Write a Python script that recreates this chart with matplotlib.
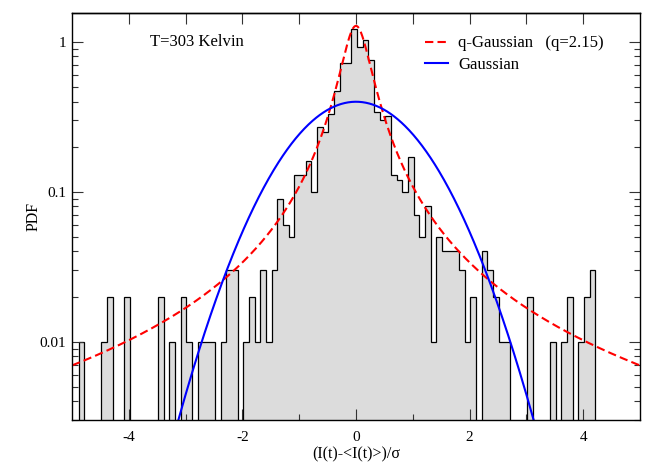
import numpy as np
import matplotlib
matplotlib.use("Agg")
import matplotlib.pyplot as plt
from matplotlib.ticker import FixedLocator, FuncFormatter, LogLocator, NullFormatter

# histogram of the normalised current, bin width 0.1
bin_start = -4.885
bin_width = 0.1
pdf_values = [
    0.01, 0, 0, 0, 0.01, 0.02, 0, 0, 0.02, 0,
    0, 0, 0, 0, 0.02, 0, 0.01, 0, 0.02, 0.01,
    0, 0.01, 0.01, 0.01, 0, 0.01, 0.03, 0.03, 0, 0.01,
    0.02, 0.01, 0.03, 0.01, 0.03, 0.09, 0.06, 0.05, 0.13, 0.13,
    0.16, 0.10, 0.27, 0.25, 0.33, 0.47, 0.72, 0.72, 1.22, 0.92,
    1.03, 0.76, 0.34, 0.30, 0.32, 0.13, 0.12, 0.10, 0.17, 0.07,
    0.05, 0.08, 0.01, 0.05, 0.04, 0.04, 0.04, 0.03, 0.01, 0.02,
    0, 0.04, 0.03, 0.02, 0.01, 0.01, 0, 0, 0, 0.02,
    0, 0, 0, 0.01, 0, 0.01, 0.02, 0, 0.01, 0.02,
    0.03,
]

# fitted curves
q_value = 2.15
q_peak = 1.28
q_beta = 14.0

x_ticks = [-4, -2, 0, 2, 4]
y_ticks = [0.01, 0.1, 1]
y_labels = ["0.01", "0.1", "1"]

plt.rcParams['font.family'] = ['Liberation Serif', 'DejaVu Serif']
plt.rcParams['axes.unicode_minus'] = False

pdf = np.array(pdf_values)
edges = bin_start + bin_width * np.arange(len(pdf) + 1)
# empty bins drop below the plot floor
pdf_draw = np.where(pdf > 0, pdf, 1e-6)

fig = plt.figure(figsize=(6.52, 4.62), dpi=100)
ax = fig.add_axes([72/652, 1 - 420/462, 568/652, 407/462])
ax.set_yscale('log')

ax.stairs(pdf_draw, edges, baseline=1e-6, fill=True, color='#dcdcdc', lw=0)
ax.stairs(pdf_draw, edges, baseline=1e-6, color='black', lw=0.9)

x = np.linspace(-5, 5, 801)
gauss = np.exp(-x**2 / 2) / np.sqrt(2 * np.pi)
qgauss = q_peak * (1 + (q_value - 1) * q_beta * x**2) ** (-1 / (q_value - 1))

ax.plot(x, qgauss, color='#ff0000', lw=1.5, ls=(0, (4, 2)),
        label="q-Gaussian   (q=2.15)")
ax.plot(x, gauss, color='#0000ff', lw=1.5, label="Gaussian")

ax.set_xlim(-5, 5)
ax.set_ylim(0.003, 1.56)

# ticks
ax.xaxis.set_major_locator(FixedLocator(x_ticks))
ax.xaxis.set_minor_locator(FixedLocator([-3, -1, 1, 3]))
ax.yaxis.set_major_locator(FixedLocator(y_ticks))
ax.yaxis.set_major_formatter(FuncFormatter(lambda v, p: y_labels[y_ticks.index(v)] if v in y_ticks else ""))
ax.yaxis.set_minor_locator(LogLocator(base=10, subs=np.arange(2, 10)))
ax.yaxis.set_minor_formatter(NullFormatter())
ax.xaxis.set_major_formatter(FuncFormatter(lambda v, p: "%d" % v))
ax.tick_params(which='both', direction='in', right=True, top=False, labelsize=11, color='#333333', width=0.8)
ax.tick_params(which='major', length=8)
ax.tick_params(axis='x', which='major', pad=8)
ax.tick_params(axis='y', which='major', pad=4)
ax.tick_params(which='minor', length=4)

top = ax.secondary_xaxis('top')
top.set_xticks(range(-4, 5))
top.tick_params(direction='in', length=8, width=0.8, color='#333333', labeltop=False)
top.spines['top'].set_linewidth(1.0)

for s in ax.spines.values():
    s.set_linewidth(1.0)

ax.set_xlabel("(I(t)-<I(t)>)/σ", fontsize=11.5, labelpad=2)
ax.set_ylabel("PDF", fontsize=11.5)
ax.yaxis.set_label_coords(-0.054, 0.5)

ax.text(0.137, 0.929, "T=303 Kelvin", transform=ax.transAxes, fontsize=12, va='center')

ax.legend(loc='upper left', bbox_to_anchor=(0.621, 0.945), frameon=False, fontsize=12,
          borderpad=0, borderaxespad=0, handlelength=1.4, handletextpad=0.6, labelspacing=0.35)

plt.savefig("out.png", dpi=100)
